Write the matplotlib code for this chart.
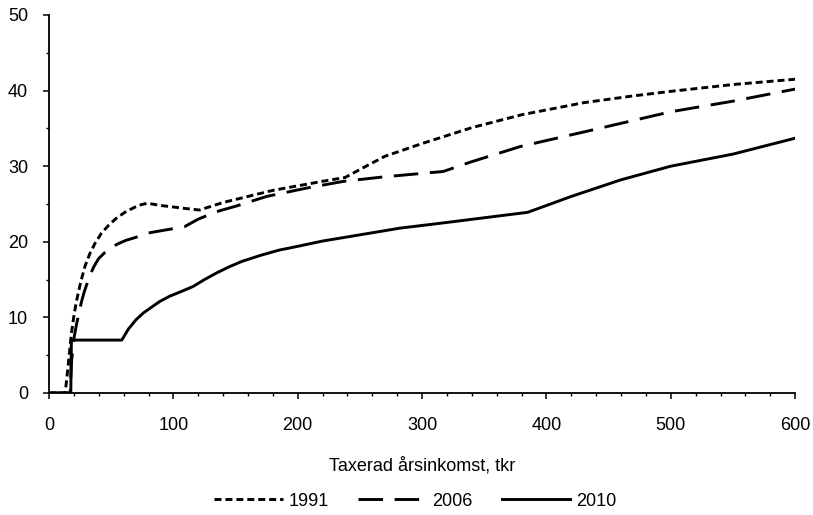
import matplotlib
matplotlib.use("Agg")
import matplotlib.pyplot as plt
from matplotlib.ticker import MultipleLocator

plt.rcParams['font.family'] = ['Liberation Sans', 'DejaVu Sans']

# Marginal effective tax by taxed annual income (tkr)
x_1991 = [0, 13, 15, 18, 20, 22, 24, 26, 29, 33, 37, 42, 48, 54, 61, 68, 74, 79,
          90, 100, 110, 121, 140, 160, 180, 200, 220, 238, 255, 270, 300, 340,
          380, 430, 470, 500, 550, 600]
y_1991 = [0, 0, 3, 7.9, 10.2, 12.1, 13.6, 15.0, 16.8, 18.5, 19.8, 21.1, 22.2,
          23.1, 23.9, 24.5, 24.9, 25.1, 24.8, 24.6, 24.4, 24.2, 25.2, 26.0, 26.8,
          27.4, 28.0, 28.5, 30.0, 31.3, 33.0, 35.1, 36.8, 38.4, 39.3, 39.9, 40.8,
          41.5]

x_2006 = [0, 17, 18, 20, 22, 24, 26, 28, 30, 33, 36, 40, 45, 49, 55, 62, 70, 81,
          95, 109, 120, 135, 150, 175, 207, 237, 270, 317, 340, 379, 432, 500,
          550, 600]
y_2006 = [0, 0, 4, 7.2, 9.0, 10.5, 12.0, 13.2, 14.2, 15.6, 16.7, 17.8, 18.6,
          19.1, 19.7, 20.2, 20.6, 21.2, 21.6, 22.0, 23.0, 24.0, 24.7, 26.0, 27.1,
          28.0, 28.6, 29.3, 30.6, 32.6, 34.6, 37.2, 38.6, 40.2]

x_2010 = [0, 17.5, 18, 58.5, 64, 70, 76, 82, 89, 97, 106, 116, 125, 135, 145,
          155, 170, 185, 200, 220, 242, 282, 322, 385, 420, 460, 500, 550, 600]
y_2010 = [0, 0, 7, 7, 8.5, 9.7, 10.6, 11.3, 12.1, 12.8, 13.4, 14.1, 15.0, 15.9,
          16.7, 17.4, 18.2, 18.9, 19.4, 20.1, 20.7, 21.8, 22.6, 23.9, 26.0, 28.2,
          30.0, 31.6, 33.7]

fig = plt.figure(figsize=(8.13, 5.15), dpi=100)
ax = fig.add_axes([0.0603, 0.2369, 0.9177, 0.734])

ax.plot(x_1991, y_1991, color='black', lw=2.1, linestyle=(0, (2.4, 1.35)),
        label='1991')
ax.plot(x_2006, y_2006, color='black', lw=2.1, linestyle=(0, (8.4, 4.0)),
        label='2006')
ax.plot(x_2010, y_2010, color='black', lw=2.1, linestyle='-', label='2010')

ax.set_xlim(0, 600)
ax.set_ylim(0, 50)
ax.xaxis.set_major_locator(MultipleLocator(100))
ax.xaxis.set_minor_locator(MultipleLocator(20))
ax.yaxis.set_major_locator(MultipleLocator(10))
ax.yaxis.set_minor_locator(MultipleLocator(5))

for s in ['top', 'right']:
    ax.spines[s].set_visible(False)
for s in ['left', 'bottom']:
    ax.spines[s].set_linewidth(1.3)

ax.tick_params(axis='both', which='major', direction='out', length=4, width=1.1,
               labelsize=13)
ax.tick_params(axis='x', which='major', pad=13)
ax.tick_params(axis='y', which='major', pad=11)
ax.tick_params(axis='both', which='minor', direction='out', length=2.5, width=1.0)

ax.set_xlabel('Taxerad årsinkomst, tkr', fontsize=13, labelpad=17)

fig.legend(loc='center', ncol=3, frameon=False, fontsize=13,
           handlelength=3.8, handletextpad=0.33, columnspacing=1.6,
           bbox_to_anchor=(0.511, 1 - 501 / 515))

fig.savefig('out.png', dpi=100)
